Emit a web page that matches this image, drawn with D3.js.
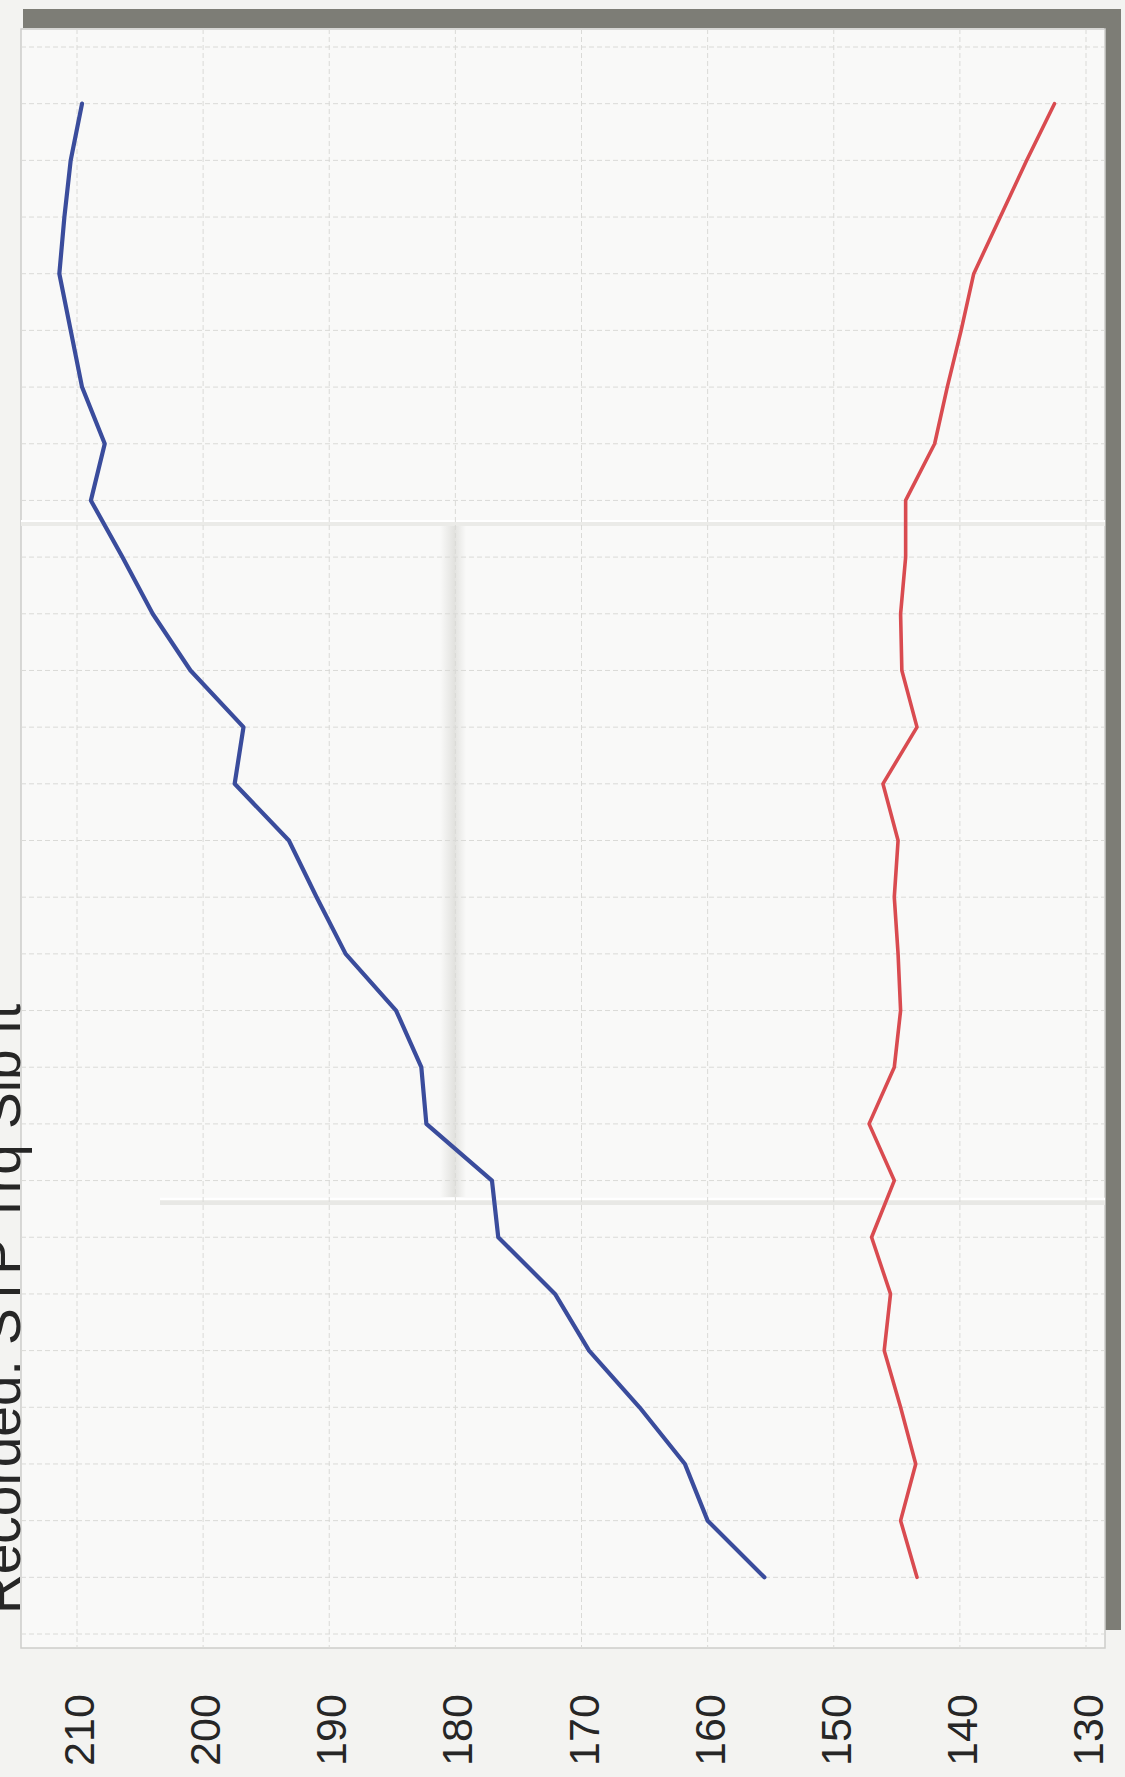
<!DOCTYPE html>
<html>
<head>
<meta charset="utf-8">
<script src="https://cdn.jsdelivr.net/npm/d3@7"></script>
<style>
  html, body { margin: 0; padding: 0; background: #f2f2f0; }
  svg { display: block; }
</style>
</head>
<body>
<svg id="chart" width="1125" height="1777"></svg>
<script>
// ---- data ----
const rpm = [2400, 2500, 2600, 2700, 2800, 2900, 3000, 3100, 3200, 3300, 3400, 3500, 3600, 3700,
             3800, 3900, 4000, 4100, 4200, 4300, 4400, 4500, 4600, 4700, 4800, 4900, 5000];
const hpValues = [155.5, 160.0, 161.8, 165.4, 169.4, 172.1, 176.6, 177.1, 182.3, 182.7, 184.7, 188.7, 191.0, 193.2,
                  197.5, 196.8, 201.0, 204.0, 206.4, 208.9, 207.8, 209.6, 210.5, 211.4, 211.0, 210.5, 209.6];
const trqValues = [143.4, 144.7, 143.5, 144.7, 146.0, 145.5, 147.0, 145.2, 147.2, 145.2, 144.7, 144.9, 145.2, 144.9,
                   146.1, 143.4, 144.6, 144.7, 144.3, 144.3, 142.0, 141.0, 139.9, 138.9, 136.8, 134.7, 132.5];
const valueTicks = [210, 200, 190, 180, 170, 160, 150, 140, 130];
const rpmGrid = [2300, 2400, 2500, 2600, 2700, 2800, 2900, 3000, 3100, 3200, 3300, 3400, 3500, 3600, 3700,
                 3800, 3900, 4000, 4100, 4200, 4300, 4400, 4500, 4600, 4700, 4800, 4900, 5000, 5100];
const titleText = "Recorded: STP Trq Slb ft";

// ---- layout ----
const svg = d3.select("#chart");
const frame = { left: 21, top: 29, right: 1105, bottom: 1648 };

// value axis runs horizontally (chart is rotated), rpm runs vertically
const x = d3.scaleLinear().domain([130, 210]).range([1086, 77]);
const y = d3.scaleLinear().domain([2300, 5100]).range([1634, 47]);

// paper background
svg.append("rect").attr("x", 0).attr("y", 0).attr("width", 1125).attr("height", 1777).attr("fill", "#f3f3f1");

// gray bands (top and right)
svg.append("rect").attr("x", 23).attr("y", 9).attr("width", 1098).attr("height", 19).attr("fill", "#7d7d76");
svg.append("rect").attr("x", 1104).attr("y", 9).attr("width", 17).attr("height", 1621).attr("fill", "#7d7d76");

// plot area
svg.append("rect")
  .attr("x", frame.left).attr("y", frame.top)
  .attr("width", frame.right - frame.left).attr("height", frame.bottom - frame.top)
  .attr("fill", "#f9f9f8").attr("stroke", "#cdcdca").attr("stroke-width", 1.5);

// paper creases (subtle)
const defs = svg.append("defs");
const g1 = defs.append("linearGradient").attr("id", "fold").attr("x1", "0").attr("x2", "1").attr("y1", "0").attr("y2", "0");
g1.append("stop").attr("offset", "0%").attr("stop-color", "#f9f9f8");
g1.append("stop").attr("offset", "55%").attr("stop-color", "#e2e2df");
g1.append("stop").attr("offset", "100%").attr("stop-color", "#f9f9f8");
const crease = svg.append("g");
crease.append("rect").attr("x", 440).attr("y", 525).attr("width", 26).attr("height", 672)
  .attr("fill", "url(#fold)");
crease.append("rect").attr("x", frame.left).attr("y", 521).attr("width", frame.right - frame.left).attr("height", 5)
  .attr("fill", "#ebebe8");
crease.append("line").attr("x1", frame.left).attr("x2", frame.right).attr("y1", 521).attr("y2", 521)
  .attr("stroke", "#ffffff").attr("stroke-width", 2);
crease.append("rect").attr("x", 160).attr("y", 1199).attr("width", frame.right - 160).attr("height", 6)
  .attr("fill", "#e8e8e5");
crease.append("line").attr("x1", 160).attr("x2", frame.right).attr("y1", 1199).attr("y2", 1199)
  .attr("stroke", "#ffffff").attr("stroke-width", 2.5);

// grid
const grid = svg.append("g");
grid.selectAll("line.v").data(valueTicks).join("line")
  .attr("class", "v")
  .attr("x1", d => x(d)).attr("x2", d => x(d))
  .attr("y1", frame.top).attr("y2", frame.bottom)
  .attr("stroke", "#dadad7").attr("stroke-width", 1).attr("stroke-dasharray", "5,3");
grid.selectAll("line.h").data(rpmGrid).join("line")
  .attr("class", "h")
  .attr("x1", frame.left).attr("x2", frame.right)
  .attr("y1", d => y(d)).attr("y2", d => y(d))
  .attr("stroke", "#dadad7").attr("stroke-width", 1).attr("stroke-dasharray", "5,3");

// lines
const line = d3.line().x(d => x(d[1])).y(d => y(d[0])).curve(d3.curveLinear);
const hpData = rpm.map((r, i) => [r, hpValues[i]]);
const trqData = rpm.map((r, i) => [r, trqValues[i]]);

svg.append("path").datum(hpData)
  .attr("d", line).attr("fill", "none")
  .attr("stroke", "#3a4c9c").attr("stroke-width", 4.2)
  .attr("stroke-linejoin", "round").attr("stroke-linecap", "round");
svg.append("path").datum(trqData)
  .attr("d", line).attr("fill", "none")
  .attr("stroke", "#d94b50").attr("stroke-width", 3.6)
  .attr("stroke-linejoin", "round").attr("stroke-linecap", "round");

// value tick labels (rotated)
svg.append("g").selectAll("text").data(valueTicks).join("text")
  .attr("transform", d => `translate(${x(d) + 2},1730) rotate(-90)`)
  .attr("text-anchor", "middle")
  .attr("dominant-baseline", "central")
  .attr("font-family", "Liberation Sans, Arial, sans-serif")
  .attr("font-size", 43)
  .attr("fill", "#262626")
  .text(d => d);

// title text along the left edge (rotated, partly cut by the photo edge as in the reference)
svg.append("text")
  .attr("transform", "translate(20,1614) rotate(-90)")
  .attr("text-anchor", "start")
  .attr("font-family", "Liberation Sans, Arial, sans-serif")
  .attr("font-size", 55)
  .attr("fill", "#262626")
  .text(titleText);
</script>
</body>
</html>
